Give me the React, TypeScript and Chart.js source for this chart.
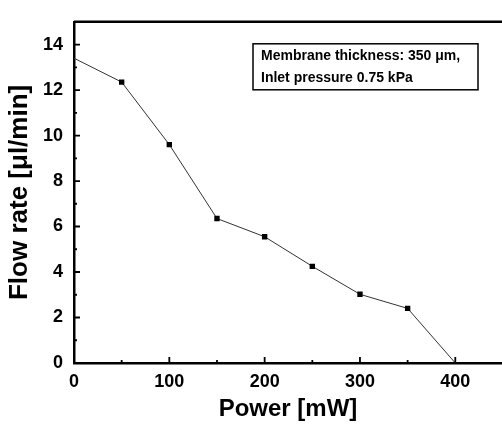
import React, { useEffect, useRef } from "react";
import { Chart, registerables } from "chart.js";

Chart.register(...registerables);

const powerMW = [0, 50, 100, 150, 200, 250, 300, 350, 400];
const flowRate = [13.4, 12.35, 9.6, 6.35, 5.55, 4.25, 3.02, 2.4, 0];
const xMajorTicks = [0, 100, 200, 300, 400];
const xMinorTicks = [50, 150, 250, 350];
const yMajorTicks = [0, 2, 4, 6, 8, 10, 12, 14];
const yMinorTicks = [1, 3, 5, 7, 9, 11, 13];
const noteLines = ["Membrane thickness: 350 \u03bcm,", "Inlet pressure 0.75 kPa"];
const xTitle = "Power [mW]";
const yTitle = "Flow rate [\u03bcl/min]";

const FONT = "'Liberation Sans', Arial, sans-serif";

const framePlugin = {
  id: "frame",
  afterDraw(chart: any) {
    const ctx = chart.ctx;
    const { left, right, top, bottom } = chart.chartArea;
    const xs = chart.scales.x;
    const ys = chart.scales.y;
    ctx.save();
    ctx.strokeStyle = "#000";
    ctx.lineWidth = 2.5;
    ctx.beginPath();
    ctx.moveTo(left, top);
    ctx.lineTo(right, top);
    ctx.stroke();
    ctx.lineWidth = 1.8;
    ctx.beginPath();
    for (const v of xMajorTicks) {
      const px = xs.getPixelForValue(v);
      ctx.moveTo(px, bottom);
      ctx.lineTo(px, bottom - 6);
    }
    for (const v of xMinorTicks) {
      const px = xs.getPixelForValue(v);
      ctx.moveTo(px, bottom);
      ctx.lineTo(px, bottom - 3);
    }
    for (const v of yMajorTicks) {
      const py = ys.getPixelForValue(v);
      ctx.moveTo(left, py);
      ctx.lineTo(left + 6, py);
    }
    for (const v of yMinorTicks) {
      const py = ys.getPixelForValue(v);
      ctx.moveTo(left, py);
      ctx.lineTo(left + 3, py);
    }
    ctx.stroke();
    const bx = left + 179;
    const by = top + 22;
    const bw = 225;
    const bh = 46;
    ctx.lineWidth = 1.5;
    ctx.strokeRect(bx, by, bw, bh);
    ctx.fillStyle = "#000";
    ctx.font = `bold 14px ${FONT}`;
    ctx.textBaseline = "middle";
    ctx.textAlign = "left";
    ctx.fillText(noteLines[0], bx + 8, by + 12);
    ctx.fillText(noteLines[1], bx + 8, by + 34);
    ctx.restore();
  },
};

export default function App() {
  const ref = useRef<HTMLCanvasElement | null>(null);
  useEffect(() => {
    if (!ref.current) return;
    const chart = new Chart(ref.current, {
      type: "line",
      data: {
        datasets: [
          {
            data: powerMW.map((x, i) => ({ x, y: flowRate[i] })),
            borderColor: "#333",
            borderWidth: 1,
            backgroundColor: "#000",
            pointStyle: "rect",
            pointRadius: powerMW.map((_, i) => (i === 0 || i === powerMW.length - 1 ? 0 : 3.8)),
            pointBorderWidth: 0,
            tension: 0,
          },
        ],
      },
      options: {
        animation: false,
        responsive: false,
        layout: { padding: { top: 10, right: 0, left: 0, bottom: 0 } },
        plugins: { legend: { display: false }, tooltip: { enabled: false } },
        scales: {
          x: {
            type: "linear",
            min: 0,
            max: 449,
            afterBuildTicks: (s: any) => {
              s.ticks = xMajorTicks.map((v) => ({ value: v }));
            },
            afterFit: (s: any) => {
              s.height = 61;
            },
            grid: { display: false, drawTicks: false },
            border: { display: true, color: "#000", width: 2.5 },
            ticks: {
              padding: 8,
              color: "#000",
              font: { family: FONT, size: 18, weight: "bold" },
              maxRotation: 0,
            },
            title: {
              display: true,
              text: xTitle,
              color: "#000",
              font: { family: FONT, size: 24, weight: "bold" },
              padding: { top: 0, bottom: 0 },
            },
          },
          y: {
            type: "linear",
            min: 0,
            max: 15,
            afterBuildTicks: (s: any) => {
              s.ticks = yMajorTicks.map((v) => ({ value: v }));
            },
            afterFit: (s: any) => {
              s.width = 74;
            },
            grid: { display: false, drawTicks: false },
            border: { display: true, color: "#000", width: 2.5 },
            ticks: {
              padding: 11,
              color: "#000",
              font: { family: FONT, size: 18, weight: "bold" },
            },
            title: {
              display: true,
              text: yTitle,
              color: "#000",
              font: { family: FONT, size: 26, weight: "bold" },
              padding: { top: 4, bottom: 0 },
            },
          },
        },
      },
      plugins: [framePlugin],
    } as any);
    return () => chart.destroy();
  }, []);
  return (
    <div style={{ position: "fixed", left: 0, top: 0, width: 502, height: 424, background: "#fff" }}>
      <canvas ref={ref} width={502} height={424} style={{ display: "block" }} />
    </div>
  );
}
